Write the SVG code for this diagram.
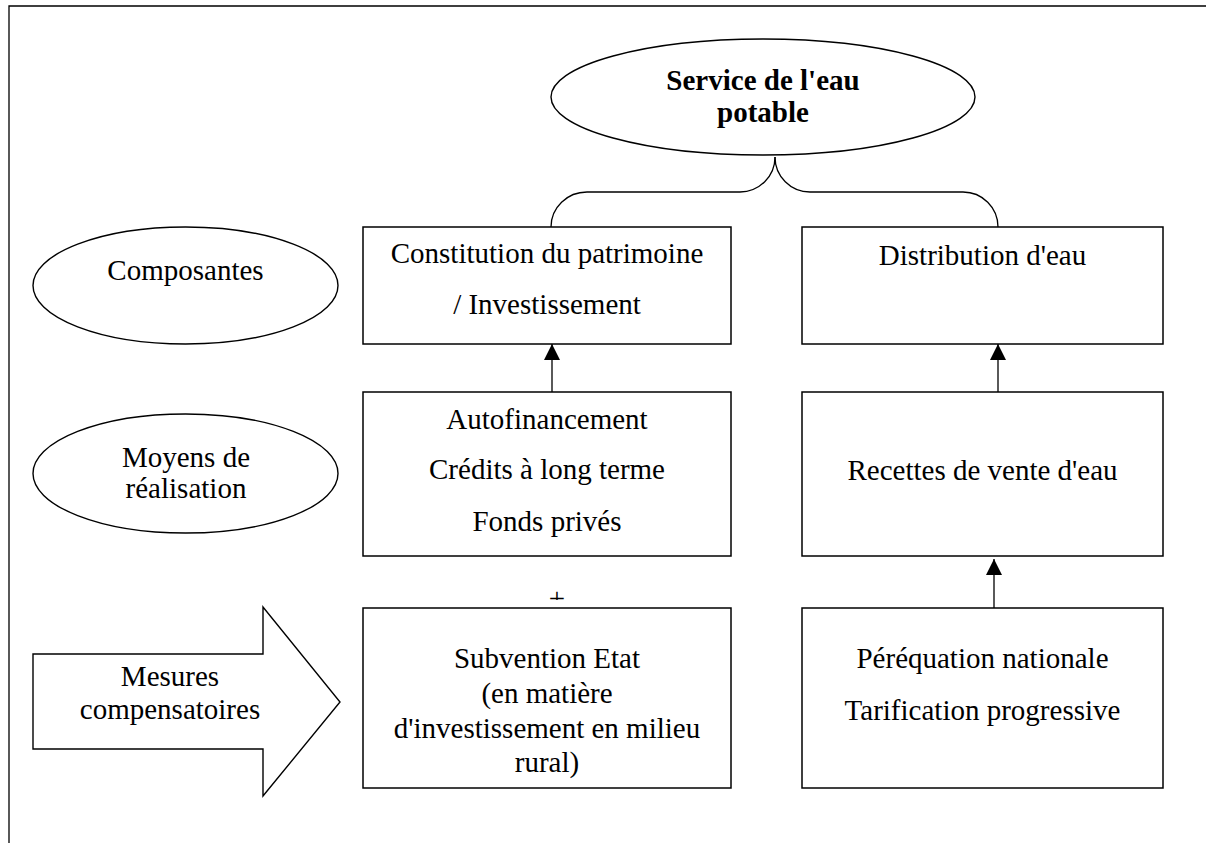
<svg xmlns="http://www.w3.org/2000/svg" width="1206" height="843" viewBox="0 0 1206 843">
<style>
.t{font-family:"Liberation Serif","Times New Roman",serif;font-size:29px;fill:#000;text-anchor:middle}
.b{font-weight:bold}
.box{fill:#fff;stroke:#000;stroke-width:1.5}
.ell{fill:#fff;stroke:#000;stroke-width:1.4}
.ln{fill:none;stroke:#000;stroke-width:1.3}
</style>
<defs>
<marker id="ah" markerWidth="16" markerHeight="16" refX="16" refY="8" orient="auto" markerUnits="userSpaceOnUse">
<path d="M0,0 L16,8 L0,16 Z" fill="#000"/>
</marker>
<clipPath id="plusclip"><rect x="530" y="580" width="50" height="20"/></clipPath>
</defs>
<rect width="1206" height="843" fill="#fff"/>
<g id="frame">
<path class="ln" d="M9,843 L9,6 L1206,6" stroke-width="1.6"/>
</g>
<g id="connectors">
<path class="ln" d="M775,157 A35,35 0 0 1 740,192 L587,192 A36,35 0 0 0 551,227"/>
<path class="ln" d="M775,157 A35,35 0 0 0 810,192 L963,192 A35,35 0 0 1 998,227"/>
<line class="ln" x1="552" y1="392" x2="552" y2="344" marker-end="url(#ah)"/>
<line class="ln" x1="998" y1="392" x2="998" y2="344" marker-end="url(#ah)"/>
<line class="ln" x1="994" y1="608" x2="994" y2="559" marker-end="url(#ah)"/>
</g>
<g id="title">
<ellipse class="ell" cx="763" cy="97" rx="212" ry="58"/>
<text class="t b" x="763" y="90">Service de l'eau</text>
<text class="t b" x="763" y="122">potable</text>
</g>
<g id="composantes">
<ellipse class="ell" cx="185.5" cy="285.5" rx="152.5" ry="58.5"/>
<text class="t" x="185.5" y="280">Composantes</text>
</g>
<g id="moyens">
<ellipse class="ell" cx="185.5" cy="473.5" rx="152.5" ry="59.5"/>
<text class="t" x="186" y="467">Moyens de</text>
<text class="t" x="186" y="498">réalisation</text>
</g>
<g id="mesures">
<polygon class="ell" points="33,654 263,654 263,607 340,702 263,796 263,749 33,749"/>
<text class="t" x="170" y="686">Mesures</text>
<text class="t" x="170" y="719">compensatoires</text>
</g>
<g id="constitution">
<rect class="box" x="363" y="227" width="368" height="117"/>
<text class="t" x="547" y="263">Constitution du patrimoine</text>
<text class="t" x="547" y="314">/ Investissement</text>
</g>
<g id="distribution">
<rect class="box" x="802" y="227" width="361" height="117"/>
<text class="t" x="982.5" y="265">Distribution d'eau</text>
</g>
<g id="autofinancement">
<rect class="box" x="363" y="392" width="368" height="164"/>
<text class="t" x="547" y="429">Autofinancement</text>
<text class="t" x="547" y="479">Crédits à long terme</text>
<text class="t" x="547" y="531">Fonds privés</text>
</g>
<g id="recettes">
<rect class="box" x="802" y="392" width="361" height="164"/>
<text class="t" x="982.5" y="480">Recettes de vente d'eau</text>
</g>
<g id="plus">
<text class="t" x="557" y="608" font-size="38" clip-path="url(#plusclip)">+</text>
</g>
<g id="subvention">
<rect class="box" x="363" y="608" width="368" height="180"/>
<text class="t" x="547" y="668">Subvention Etat</text>
<text class="t" x="547" y="703">(en matière</text>
<text class="t" x="547" y="738">d'investissement en milieu</text>
<text class="t" x="547" y="772">rural)</text>
</g>
<g id="perequation">
<rect class="box" x="802" y="608" width="361" height="180"/>
<text class="t" x="982.5" y="668">Péréquation nationale</text>
<text class="t" x="982.5" y="720">Tarification progressive</text>
</g>
</svg>
